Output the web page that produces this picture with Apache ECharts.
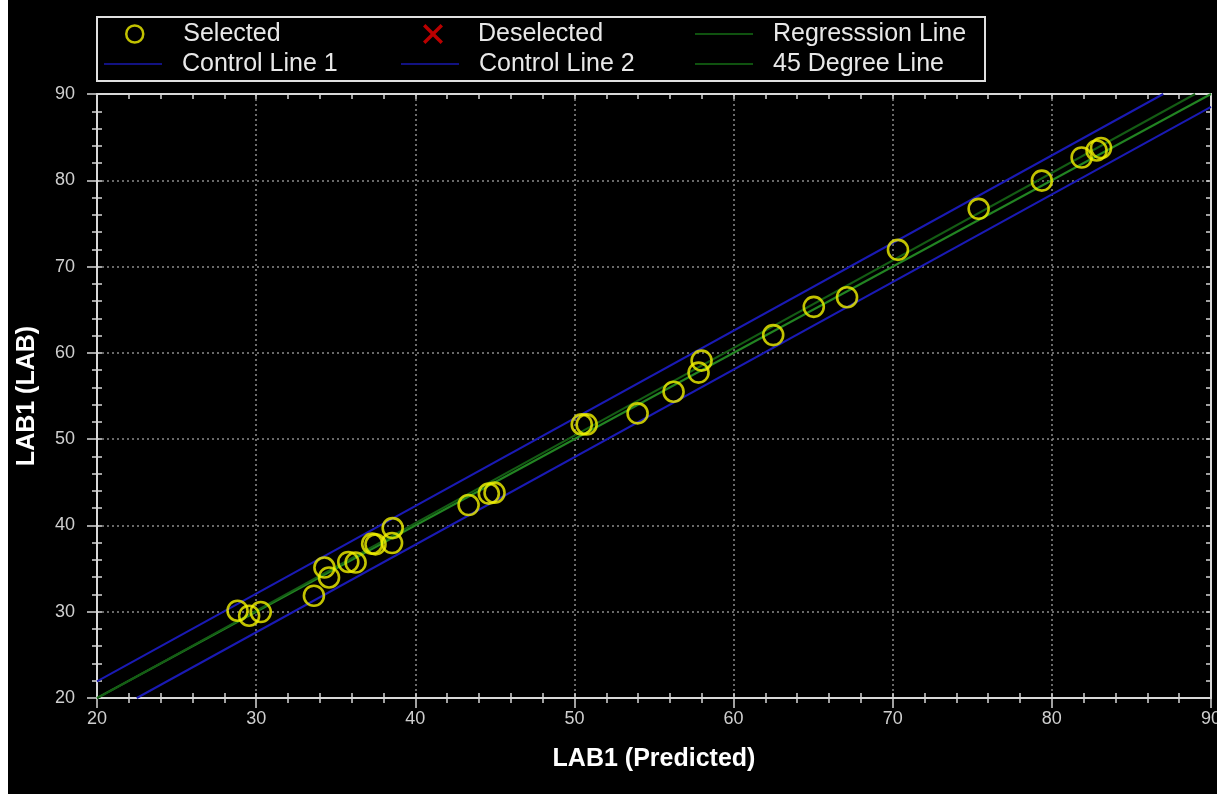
<!DOCTYPE html>
<html>
<head>
<meta charset="utf-8">
<script src="https://cdn.jsdelivr.net/npm/echarts@6/dist/echarts.min.js"></script>
<style>
html,body{margin:0;padding:0;background:#ffffff;}
#chart{position:absolute;left:8px;top:0;width:1209px;height:794px;background:#000;}
</style>
</head>
<body>
<div id="chart"></div>
<script>
// Selected points: predicted (x) and lab (y)
const predicted = [28.83, 29.56, 30.29, 33.63, 34.29, 34.58, 35.79, 36.25, 37.29, 37.5, 38.58, 38.54, 43.35, 44.62, 44.98, 50.46, 50.77, 53.97, 56.23, 57.8, 57.99, 62.49, 65.04, 67.13, 70.33, 75.4, 79.37, 81.87, 82.81, 83.09];
const lab = [30.12, 29.54, 29.97, 31.85, 35.12, 33.97, 35.77, 35.7, 37.89, 37.81, 39.69, 37.96, 42.36, 43.69, 43.8, 51.71, 51.71, 52.99, 55.5, 57.71, 59.1, 62.06, 65.33, 66.45, 71.94, 76.69, 79.96, 82.64, 83.46, 83.74];
const deselected = [];
// Line endpoints [[x0,y0],[x1,y1]]
const regressionLine = [[20, 19.97], [89, 90]];
const controlLine1 = [[20, 21.92], [87, 90]];
const controlLine2 = [[22.5, 20], [90, 88.5]];
const degree45Line = [[20, 20], [90, 90]];
const axisMin = 20, axisMax = 90, axisStep = 10;
const xName = 'LAB1 (Predicted)';
const yName = 'LAB1 (LAB)';

const selectedData = predicted.map((x, i) => [x, lab[i]]);
const FONT = '"Liberation Sans", Arial, sans-serif';
const axisColor = '#d8d8d8';
const blue = '#1a1ab4';
const green45 = '#228422';
const greenReg = '#145c14';
const yellow = '#f2f200';

function mainAxis(isX) {
  return {
    type: 'value', min: axisMin, max: axisMax, interval: axisStep,
    position: isX ? 'bottom' : 'left',
    axisLine: {show: true, onZero: false, lineStyle: {color: axisColor, width: 2}},
    axisTick: {show: true, inside: false, length: 10, lineStyle: {color: axisColor, width: 1.5}},
    minorTick: {show: true, splitNumber: 5, length: 5, lineStyle: {color: axisColor, width: 1.5}},
    axisLabel: {show: true, color: '#cfcfcf', fontSize: 18, fontFamily: FONT, margin: isX ? 12 : 22},
    splitLine: {show: true, lineStyle: {color: '#8c8c8c', type: [2, 3], width: 1.5}},
    name: isX ? xName : yName, nameLocation: 'middle', nameGap: isX ? 49 : 57,
    nameTextStyle: {color: '#ffffff', fontSize: 25, fontWeight: 'bold', fontFamily: FONT}
  };
}
function innerAxis(pos, showLine) {
  return {
    type: 'value', min: axisMin, max: axisMax, interval: axisStep, position: pos,
    axisLine: {show: showLine, onZero: false, lineStyle: {color: axisColor, width: 2}},
    axisTick: {show: true, inside: true, length: 5, lineStyle: {color: axisColor, width: 1.5}},
    minorTick: {show: true, splitNumber: 5, length: 5, lineStyle: {color: axisColor, width: 1.5}},
    axisLabel: {show: false}, splitLine: {show: false}
  };
}

function legendAt(item, left, top, w, h, spacer) {
  return {
    data: [item], left: left, top: top, padding: 0, orient: 'horizontal',
    itemWidth: w, itemHeight: h, selectedMode: false,
    formatter: '{sp|}' + item.name,
    textStyle: {color: '#e8e8e8', fontSize: 25, fontFamily: FONT, lineHeight: 28,
      rich: {sp: {width: spacer}}}
  };
}
const xIcon = 'path://M0,1.2L1.2,0L5,3.8L8.8,0L10,1.2L6.2,5L10,8.8L8.8,10L5,6.2L1.2,10L0,8.8L3.8,5Z';
const OX = 8; // chart div left offset in page

const chart = echarts.init(document.getElementById('chart'), null, {renderer: 'canvas'});
chart.setOption({
  backgroundColor: '#000000',
  animation: false,
  grid: {left: 97 - OX, right: 6, top: 94, bottom: 96, containLabel: false, outerBoundsMode: 'none'},
  xAxis: [mainAxis(true), innerAxis('bottom', false), innerAxis('top', true)],
  yAxis: [mainAxis(false), innerAxis('left', false), innerAxis('right', true)],
  legend: [
    legendAt({name: 'Selected', icon: 'circle', itemStyle: {color: 'rgba(0,0,0,0)', borderColor: yellow, borderWidth: 2.5}}, 125 - OX, 20, 17, 17, 35),
    legendAt({name: 'Deselected', icon: xIcon, itemStyle: {color: '#e80000'}}, 423 - OX, 20, 20, 20, 30),
    legendAt({name: 'Regresssion Line', icon: 'rect', itemStyle: {color: '#0f520f'}}, 695 - OX, 20, 58, 2, 15),
    legendAt({name: 'Control Line 1', icon: 'rect', itemStyle: {color: '#121282'}}, 104 - OX, 50, 58, 2, 15),
    legendAt({name: 'Control Line 2', icon: 'rect', itemStyle: {color: '#121282'}}, 401 - OX, 50, 58, 2, 15),
    legendAt({name: '45 Degree Line', icon: 'rect', itemStyle: {color: '#0f520f'}}, 695 - OX, 50, 58, 2, 15)
  ],
  graphic: [{
    type: 'rect', shape: {x: 97 - OX, y: 17, width: 888, height: 64},
    style: {fill: 'none', stroke: '#e0e0e0', lineWidth: 2}, silent: true
  }],
  series: [
    {name: 'Control Line 1', type: 'line', data: controlLine1, symbol: 'none', showSymbol: false,
     lineStyle: {color: blue, width: 2}, itemStyle: {color: blue}, z: 2},
    {name: 'Control Line 2', type: 'line', data: controlLine2, symbol: 'none', showSymbol: false,
     lineStyle: {color: blue, width: 2}, itemStyle: {color: blue}, z: 2},
    {name: '45 Degree Line', type: 'line', data: degree45Line, symbol: 'none', showSymbol: false,
     lineStyle: {color: green45, width: 2}, itemStyle: {color: green45}, z: 2},
    {name: 'Regresssion Line', type: 'line', data: regressionLine, symbol: 'none', showSymbol: false,
     lineStyle: {color: greenReg, width: 2}, itemStyle: {color: greenReg}, z: 2},
    {name: 'Selected', type: 'scatter', data: selectedData, symbol: 'circle', symbolSize: 20,
     itemStyle: {color: 'rgba(0,0,0,0)', borderColor: yellow, borderWidth: 2.6}, z: 5},
    {name: 'Deselected', type: 'scatter', data: deselected, symbol: xIcon, symbolSize: 18,
     itemStyle: {color: '#e80000'}, z: 5}
  ]
});
</script>
</body>
</html>
